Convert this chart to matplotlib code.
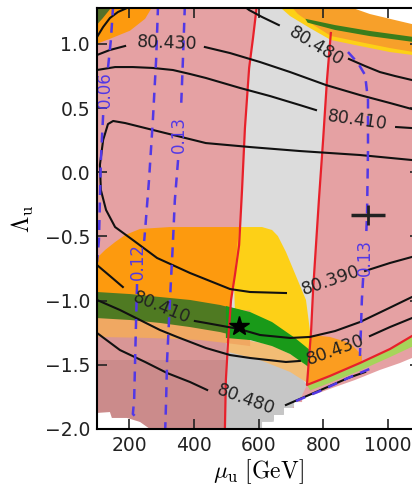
import numpy as np
import matplotlib.pyplot as plt

plt.rcParams['mathtext.fontset'] = 'cm'

# ---- filled regions in the (mu_u [GeV], Lambda_u) plane ----
full_x = [100, 1100, 1100, 100]
full_y = [-2.0, -2.0, 1.3, 1.3]

band_yellow_x = [660, 1100, 1100, 1007, 914, 824, 759, 698]
band_yellow_y = [1.3, 1.3, 0.905, 0.936, 0.983, 1.030, 1.123, 1.216]
band_orange_x = [698, 1100, 1100, 1007, 914, 824, 766, 722]
band_orange_y = [1.3, 1.3, 0.928, 0.967, 1.014, 1.061, 1.154, 1.232]
band_green_x = [745, 837, 945, 1075, 1100, 1100, 1075, 945, 837, 752]
band_green_y = [1.195, 1.146, 1.100, 1.055, 1.048, 1.010, 1.016, 1.060, 1.108, 1.165]
white_tr_x = [868, 945, 1023, 1075, 1100, 1100]
white_tr_y = [1.3, 1.232, 1.185, 1.154, 1.146, 1.3]

corner_orange_x = [100, 274, 249, 202, 140, 100]
corner_orange_y = [1.3, 1.3, 1.195, 1.102, 1.039, 1.0]
corner_olive_x = [100, 150, 118, 100]
corner_olive_y = [1.3, 1.3, 1.2, 1.15]

strip_x = [595, 700, 824, 812, 800, 787, 778, 769, 763, 756, 750, 694, 623,
           496, 499, 506, 515, 527, 540, 549, 558, 571, 583]
strip_y = [1.3, 1.3, 1.084, 0.718, 0.251, -0.217, -0.567, -0.917, -1.229,
           -1.463, -1.657, -1.868, -2.0, -2.0, -1.618, -1.307, -0.995, -0.801,
           -0.567, -0.139, 0.344, 0.812, 1.045]

orange_low_x = [100, 125, 156, 187, 233, 326, 546, 540, 527, 515, 509, 100]
orange_low_y = [-0.668, -0.606, -0.544, -0.489, -0.442, -0.427, -0.427,
                -0.606, -0.840, -0.995, -1.229, -1.229]
yellow_x = [540, 611, 642, 660, 685, 716, 747, 759, 766, 713, 642, 574, 527, 524]
yellow_y = [-0.427, -0.427, -0.450, -0.497, -0.621, -0.808, -0.995, -1.229,
            -1.400, -1.307, -1.190, -1.112, -1.089, -0.840]

pink_dull_x = [100, 499, 499, 100]
pink_dull_y = [-1.26, -1.26, -2.0, -2.0]
pink_mid_x = [100, 499, 499, 100]
pink_mid_y = [-1.26, -1.26, -1.46, -1.46]
lorange_x = [100, 574, 574, 499, 419, 264, 100]
lorange_y = [-1.073, -1.073, -1.354, -1.330, -1.307, -1.291, -1.283]
olive_x = [100, 202, 295, 388, 481, 543, 574, 574, 543, 481, 388, 295, 202, 100]
olive_y = [-0.933, -0.949, -0.972, -0.995, -1.034, -1.073, -1.097,
           -1.307, -1.283, -1.245, -1.206, -1.174, -1.151, -1.136]
gray_low_x = [499, 574, 642, 713, 750, 728, 694, 651, 623, 499]
gray_low_y = [-1.307, -1.346, -1.431, -1.540, -1.657, -1.774, -1.868, -1.922, -2.0, -2.0]
peach_x = [499, 642, 747, 797, 766, 698, 605, 506]
peach_y = [-1.276, -1.346, -1.478, -1.603, -1.665, -1.556, -1.463, -1.400]
green_x = [499, 574, 642, 713, 759, 790, 803, 797, 747, 698, 642, 574, 499]
green_y = [-1.042, -1.089, -1.167, -1.291, -1.385, -1.478, -1.556,
           -1.603, -1.502, -1.416, -1.354, -1.307, -1.291]
orange_tri_x = [763, 821, 883, 920, 920, 821, 750]
orange_tri_y = [-1.268, -1.283, -1.330, -1.424, -1.478, -1.587, -1.657]
edge_green_x = [750, 821, 914, 1007, 1075, 1100, 1100, 1075, 1007, 914, 821, 760]
edge_green_y = [-1.657, -1.587, -1.486, -1.377, -1.276, -1.252, -1.330,
                -1.360, -1.440, -1.545, -1.640, -1.700]
white_bl_x = [100, 140, 146, 193, 233, 264, 100]
white_bl_y = [-1.875, -1.868, -1.914, -1.914, -1.945, -2.0, -2.0]
white_br_x = [611, 611, 648, 648, 679, 679, 710, 710, 735, 735, 778, 837, 899,
              976, 1038, 1075, 1100, 1100]
white_br_y = [-2.0, -1.945, -1.945, -1.891, -1.891, -1.836, -1.836, -1.790,
              -1.790, -1.750, -1.727, -1.673, -1.618, -1.540, -1.486, -1.447,
              -1.431, -2.0]

# ---- red boundaries ----
red_left_x = [595, 583, 571, 558, 549, 540, 527, 515, 506, 499, 496]
red_left_y = [1.3, 1.045, 0.812, 0.344, -0.139, -0.567, -0.801, -0.995, -1.307, -1.618, -2.0]
red_right_x = [824, 812, 800, 787, 778, 769, 763, 756, 750, 821, 914, 1007, 1075, 1100]
red_right_y = [1.084, 0.718, 0.251, -0.217, -0.567, -0.917, -1.229, -1.463,
               -1.657, -1.587, -1.486, -1.377, -1.276, -1.252]

# ---- m_W contours (pieces between labels) ----
mw_lines = [
    ([100, 119, 140, 165, 193, 202], [1.053, 1.131, 1.201, 1.248, 1.279, 1.3]),
    ([552, 571, 611, 663], [1.3, 1.263, 1.209, 1.146]),
    ([880, 930, 976, 1023, 1075, 1100], [0.882, 0.827, 0.780, 0.749, 0.718, 0.702]),
    ([100, 140, 187], [0.913, 0.952, 0.983]),
    ([434, 512, 605, 698, 809, 914, 1007, 1075, 1100],
     [0.975, 0.928, 0.858, 0.780, 0.679, 0.601, 0.539, 0.492, 0.477]),
    ([100, 156, 211, 273, 335, 388, 437, 543, 636, 728, 778],
     [0.796, 0.819, 0.819, 0.812, 0.796, 0.765, 0.734, 0.656, 0.593, 0.523, 0.484]),
    ([1026, 1075, 1100], [0.352, 0.344, 0.336]),
    ([1100, 1075, 914, 728, 574, 437, 286, 187, 150, 134, 119, 109, 112, 128,
      156, 211, 286, 388, 512, 574, 685],
     [0.087, 0.095, 0.134, 0.165, 0.196, 0.227, 0.321, 0.383, 0.399, 0.375,
      0.251, 0.056, -0.139, -0.294, -0.427, -0.528, -0.668, -0.785, -0.910,
      -0.933, -0.941]),
    ([930, 1007, 1075, 1100], [-0.769, -0.707, -0.660, -0.645]),
    ([100, 140, 180], [-0.723, -0.808, -0.894]),
    ([403, 437, 540, 605, 698, 759, 837, 914, 992, 1075, 1100],
     [-1.159, -1.174, -1.221, -1.268, -1.291, -1.283, -1.237, -1.167, -1.073, -0.972, -0.949]),
    ([100, 171, 233, 295, 348, 437, 512, 574, 685, 728],
     [-0.995, -1.073, -1.151, -1.229, -1.283, -1.369, -1.424, -1.447, -1.478, -1.470]),
    ([945, 1007, 1075, 1100], [-1.276, -1.206, -1.136, -1.112]),
    ([100, 171, 249, 317, 388, 441], [-1.252, -1.385, -1.478, -1.564, -1.634, -1.696]),
    ([685, 728, 778, 821, 877, 930], [-1.813, -1.766, -1.712, -1.665, -1.603, -1.556]),
]
mw_labels = ['80.430', '80.480', '80.410', '80.390', '80.410', '80.430', '80.480']
mw_lab_x = [317, 778, 905, 824, 301, 837, 561]
mw_lab_y = [1.006, 0.983, 0.407, -0.840, -1.058, -1.385, -1.774]
mw_lab_rot = [-2, -31, -8, 19, -22, 20, -20]

# ---- dashed contours ----
dash_lines = [
    ([150, 143, 134], [1.3, 1.030, 0.812]),
    ([119, 112, 109, 106, 100], [0.445, 0.095, -0.217, -0.528, -0.699]),
    ([289, 283, 273, 261, 249, 246], [1.3, 0.874, 0.407, -0.061, -0.450, -0.536]),
    ([224, 221, 218, 215, 211, 233], [-0.871, -1.151, -1.463, -1.774, -1.883, -1.938]),
    ([372, 366, 360], [1.3, 0.874, 0.484]),
    ([351, 341, 335, 329, 323, 317, 314, 311],
     [0.095, -0.217, -0.551, -0.840, -1.151, -1.463, -1.774, -2.02]),
    ([877, 908, 930, 939, 939, 936, 933], [0.936, 0.850, 0.757, 0.562, 0.173, -0.333, -0.512]),
    ([924, 920, 917, 914], [-0.824, -0.995, -1.229, -1.431]),
    ([716, 790, 877, 951], [-1.782, -1.704, -1.603, -1.525]),
]
dash_labels = ['0.06', '0.12', '0.13', '0.13']
dash_lab_x = [125, 227, 354, 930]
dash_lab_y = [0.640, -0.699, 0.290, -0.668]

star_pt = (540, -1.198)
plus_pt = (939, -0.333)

fig = plt.figure(figsize=(4.12, 4.91), dpi=100)
ax = fig.add_axes([97 / 412, 62 / 491, 323 / 412, 421 / 491])

fills = [
    (full_x, full_y, '#e5a1a3'),
    (strip_x, strip_y, '#dcdcdc'),
    (band_yellow_x, band_yellow_y, '#fdd017'),
    (band_orange_x, band_orange_y, '#f7a02a'),
    (band_green_x, band_green_y, '#3a7d1c'),
    (white_tr_x, white_tr_y, 'white'),
    (corner_orange_x, corner_orange_y, '#fd9a0e'),
    (corner_olive_x, corner_olive_y, '#55702a'),
    (orange_low_x, orange_low_y, '#fd9a0e'),
    (yellow_x, yellow_y, '#fdd017'),
    (pink_dull_x, pink_dull_y, '#cb8b8b'),
    (pink_mid_x, pink_mid_y, '#d89696'),
    (gray_low_x, gray_low_y, '#c6c6c6'),
    (peach_x, peach_y, '#f2bc74'),
    (lorange_x, lorange_y, '#f0a862'),
    (olive_x, olive_y, '#4f7a22'),
    (green_x, green_y, '#199a19'),
    (orange_tri_x, orange_tri_y, '#fb9d20'),
    (edge_green_x, edge_green_y, '#a6d45a'),
    (white_bl_x, white_bl_y, 'white'),
    (white_br_x, white_br_y, 'white'),
]
for i, (fx, fy, c) in enumerate(fills):
    ax.fill(fx, fy, color=c, lw=0, zorder=1 + i * 0.01)

ax.plot(red_left_x, red_left_y, color='#e8202a', lw=1.6, zorder=3)
ax.plot(red_right_x, red_right_y, color='#e8202a', lw=1.6, zorder=3)

for lx, ly in mw_lines:
    ax.plot(lx, ly, color='#111111', lw=1.5, zorder=4)
for t, x, y, r in zip(mw_labels, mw_lab_x, mw_lab_y, mw_lab_rot):
    ax.text(x, y, t, fontsize=12.5, color='#222222', rotation=r,
            ha='center', va='center', rotation_mode='anchor', zorder=5)

for lx, ly in dash_lines:
    ax.plot(lx, ly, color='#5238e6', lw=1.8, ls=(0, (4, 3)), zorder=4)
for t, x, y in zip(dash_labels, dash_lab_x, dash_lab_y):
    ax.text(x, y, t, fontsize=12, color='#5238e6', rotation=90,
            ha='center', va='center', rotation_mode='anchor', zorder=5)

ax.plot(*star_pt, marker='*', ms=15, color='black', zorder=6)
ax.plot(*plus_pt, marker='_', ms=24, mew=2.5, color='#222222', zorder=6)
ax.plot(*plus_pt, marker='|', ms=15, mew=2.0, color='#222222', zorder=6)

ax.set_xlim(100, 1100)
ax.set_ylim(-2.0, 1.279)
ax.set_xticks([200, 400, 600, 800, 1000])
ax.set_yticks([-2.0, -1.5, -1.0, -0.5, 0.0, 0.5, 1.0])
ax.tick_params(direction='in', top=True, right=True, length=7, width=1.2,
               labelsize=13.5, colors='#222222', pad=5)
for sp in ax.spines.values():
    sp.set_linewidth(1.5)
    sp.set_zorder(10)
ax.set_xlabel(r'$\mu_{\rm u}\ [\mathrm{GeV}]$', fontsize=17, labelpad=2)
ax.set_ylabel(r'$\Lambda_{\rm u}$', fontsize=17, labelpad=6)

fig.savefig('out.png', dpi=100)
